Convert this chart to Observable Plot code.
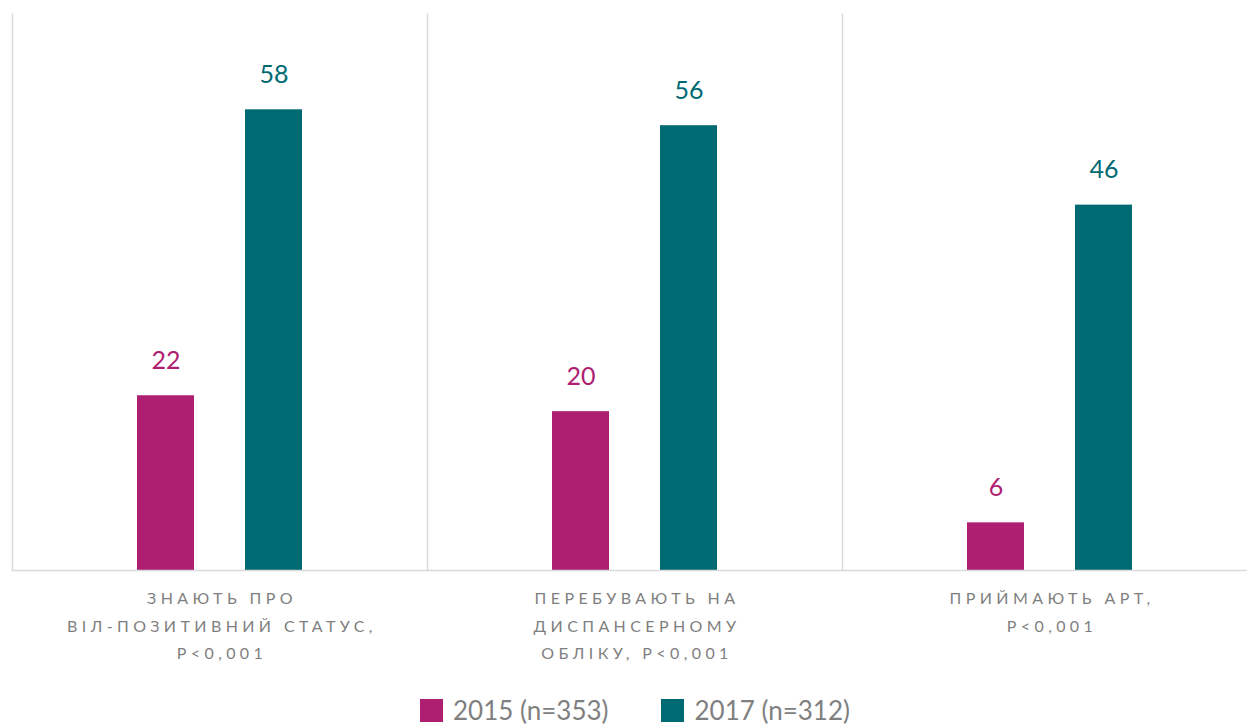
<!DOCTYPE html>
<html>
<head>
<meta charset="utf-8">
<script src="https://cdn.jsdelivr.net/npm/d3@7"></script>
<script src="https://cdn.jsdelivr.net/npm/@observablehq/plot@0.6"></script>
<style>
  html, body { margin: 0; padding: 0; background: #fff; overflow: hidden; }
  #chart { width: 1257px; }
  .legend { display: flex; justify-content: flex-start; align-items: center; margin-left: 420px; margin-top: 16px;
            font-family: Lato, "Open Sans", sans-serif; font-size: 26px; line-height: 28px; color: #7f7f7f; }
  .legend .item { display: flex; align-items: center; }
  .legend .item + .item { margin-left: 53px; }
  .legend .sw { width: 23px; height: 23px; margin-right: 10px; }
</style>
</head>
<body>
<div id="chart"></div>
<script>
const categories = [
  "ЗНАЮТЬ ПРО\nВІЛ-ПОЗИТИВНИЙ СТАТУС,\nP<0,001",
  "ПЕРЕБУВАЮТЬ НА\nДИСПАНСЕРНОМУ\nОБЛІКУ, P<0,001",
  "ПРИЙМАЮТЬ АРТ,\nP<0,001"
];
const series = ["2015 (n=353)", "2017 (n=312)"];
const values2015 = [22, 20, 6];
const values2017 = [58, 56, 46];
const colors = ["#AE1F72", "#006A73"];

const data = [];
categories.forEach((c, i) => {
  data.push({category: c, series: series[0], value: values2015[i]});
  data.push({category: c, series: series[1], value: values2017[i]});
});

const plot = Plot.plot({
  width: 1257,
  height: 680,
  marginLeft: 12,
  marginRight: 0,
  marginTop: 14,
  marginBottom: 110,
  style: {fontFamily: 'Lato, "Open Sans", sans-serif', background: "#fff"},
  fx: {domain: categories, padding: 0, axis: null},
  x: {domain: series, paddingInner: 0.472, paddingOuter: 1.157, axis: null},
  y: {domain: [0, 70], axis: null},
  color: {domain: series, range: colors},
  marks: [
    Plot.frame({anchor: "left", stroke: "#d9d9d9", strokeWidth: 1.5}),
    Plot.barY(data, {fx: "category", x: "series", y: "value", fill: "series"}),
    Plot.ruleY([0], {stroke: "#d9d9d9", strokeWidth: 1.5}),
    Plot.text(data, {fx: "category", x: "series", y: "value", text: d => String(d.value),
      fill: "series", fontSize: 25, lineAnchor: "bottom", dy: -27}),
    Plot.text(categories, {fx: d => d, text: d => d, frameAnchor: "bottom", lineAnchor: "top",
      dy: 14, dx: 2, fontSize: 16, fill: "#7f7f7f", lineHeight: 1.72})
  ]
});
const groups = plot.querySelectorAll('g[aria-label="text"]');
const last = groups[groups.length - 1];
if (last) last.setAttribute("letter-spacing", "4.4");
document.getElementById("chart").appendChild(plot);

const legend = document.createElement("div");
legend.className = "legend";
series.forEach((s, i) => {
  const item = document.createElement("div");
  item.className = "item";
  const sw = document.createElement("div");
  sw.className = "sw";
  sw.style.background = colors[i];
  const t = document.createElement("span");
  t.textContent = s;
  item.appendChild(sw);
  item.appendChild(t);
  legend.appendChild(item);
});
document.getElementById("chart").appendChild(legend);
</script>
</body>
</html>
